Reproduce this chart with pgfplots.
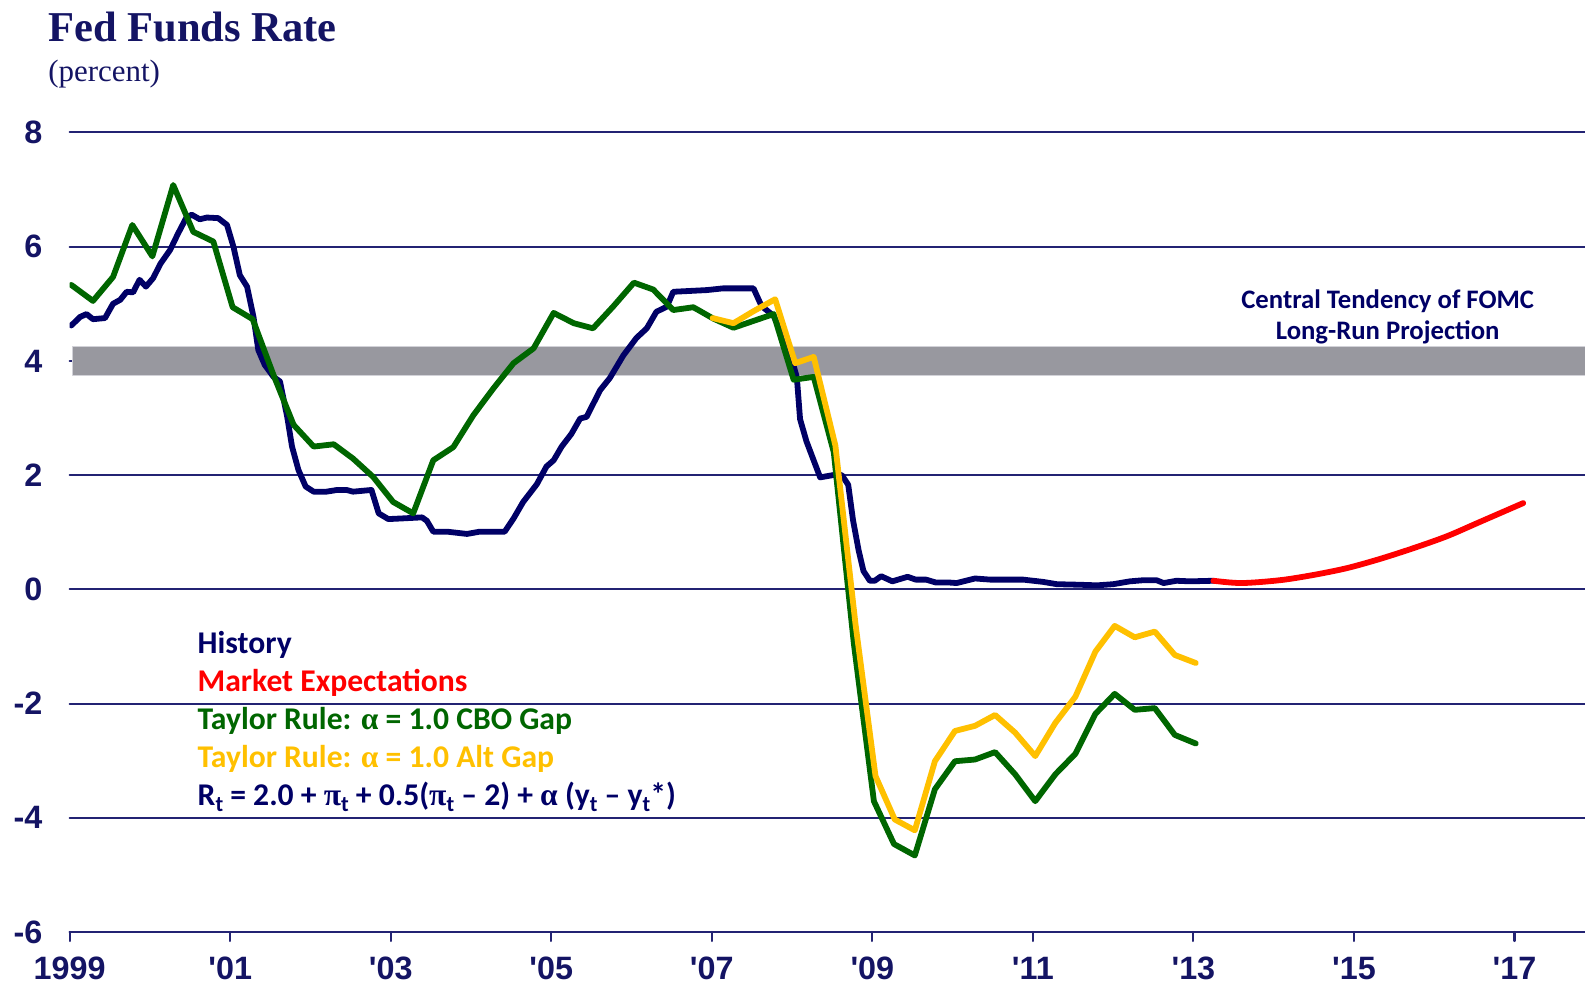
\documentclass[border=0pt]{standalone}
\usepackage{fontspec}
\setmainfont{Liberation Sans}
\newfontfamily\titlefont{Liberation Serif}
\newfontfamily\calfont{Carlito}
\newfontfamily\greekfont{Liberation Serif}
\usepackage{pgfplots}
\pgfplotsset{compat=1.18}
\definecolor{navy}{HTML}{141464}
\definecolor{histc}{HTML}{000066}
\definecolor{gridc}{HTML}{232373}
\definecolor{tgreen}{HTML}{006600}
\definecolor{tyellow}{HTML}{FFC000}
\definecolor{band}{HTML}{98989F}
\definecolor{bandedge}{HTML}{D2D2D8}
\newcommand{\tickf}{\fontsize{9.2}{10}\selectfont\bfseries}
\newcommand{\legf}{\calfont\fontsize{9}{10}\selectfont\bfseries}
\newcommand{\gk}[1]{{\greekfont #1}}
\newcommand{\sub}[1]{\raisebox{-0.35ex}{\fontsize{6.3}{7}\selectfont #1}}
\begin{document}
\begin{tikzpicture}
\begin{axis}[
  at={(0,0)}, anchor=south west, scale only axis,
  width=151.53mm, height=79.95mm,
  xmin=1999, xmax=2017.88, ymin=-6, ymax=8,
  axis x line*=bottom, axis y line*=left,
  x axis line style={gridc, line width=0.6pt, -},
  y axis line style={draw=none},
  xtick={1999,2001,...,2017},
  xticklabels={1999,\textquotesingle01,\textquotesingle03,\textquotesingle05,\textquotesingle07,\textquotesingle09,\textquotesingle11,\textquotesingle13,\textquotesingle15,\textquotesingle17},
  ytick={-6,-4,...,8},
  yticklabels={-6,-4,-2,0,2,4,6,8},
  ymajorgrids, grid style={gridc, line width=0.55pt},
  xtick style={gridc, line width=0.6pt}, tick align=outside, major tick length=0.9mm,
  ytick style={draw=none},
  tick label style={font=\tickf, text=navy},
  xticklabel style={anchor=base, yshift=-3.9mm},
  yticklabel style={anchor=east, inner sep=0pt, xshift=-1.77mm},
  line join=round, line cap=round,
]
% central tendency band
\addplot[fill=band, draw=bandedge, line width=0.3pt, forget plot]
  coordinates {(1999.04,3.75) (2017.95,3.75) (2017.95,4.25) (1999.04,4.25)} -- cycle;
% history
\addplot[histc, line width=1.65pt] coordinates {
 (1999.02,4.62) (1999.13,4.77) (1999.21,4.82) (1999.29,4.73) (1999.44,4.75) (1999.54,5.0)
 (1999.63,5.07) (1999.71,5.21) (1999.79,5.2) (1999.87,5.42) (1999.95,5.3) (2000.04,5.45)
 (2000.13,5.7) (2000.25,5.94) (2000.35,6.23) (2000.45,6.5) (2000.52,6.56) (2000.62,6.48)
 (2000.71,6.51) (2000.85,6.5) (2000.96,6.38) (2001.04,6.0) (2001.12,5.5) (2001.21,5.3)
 (2001.29,4.77) (2001.35,4.19) (2001.43,3.93) (2001.54,3.72) (2001.62,3.64) (2001.71,3.02)
 (2001.77,2.5) (2001.85,2.09) (2001.94,1.8) (2002.04,1.71) (2002.2,1.71) (2002.33,1.74)
 (2002.45,1.74) (2002.53,1.71) (2002.76,1.74) (2002.85,1.33) (2002.97,1.23) (2003.12,1.24)
 (2003.39,1.26) (2003.45,1.2) (2003.53,1.01) (2003.7,1.01) (2003.95,0.97) (2004.11,1.01)
 (2004.42,1.01) (2004.53,1.24) (2004.65,1.53) (2004.82,1.84) (2004.94,2.15) (2005.03,2.26)
 (2005.13,2.5) (2005.25,2.72) (2005.36,2.99) (2005.44,3.02) (2005.61,3.49) (2005.73,3.7)
 (2005.9,4.1) (2006.06,4.4) (2006.19,4.57) (2006.31,4.86) (2006.44,4.95) (2006.52,5.21)
 (2006.94,5.24) (2007.14,5.27) (2007.52,5.27) (2007.62,4.96) (2007.77,4.79) (2007.97,4.17)
 (2008.06,3.71) (2008.1,2.98) (2008.18,2.59) (2008.35,1.96) (2008.51,2.0) (2008.62,2.0)
 (2008.7,1.83) (2008.76,1.21) (2008.83,0.68) (2008.89,0.32) (2008.97,0.15) (2009.03,0.15)
 (2009.11,0.23) (2009.25,0.14) (2009.44,0.22) (2009.54,0.17) (2009.67,0.17) (2009.79,0.12)
 (2009.95,0.12) (2010.05,0.11) (2010.28,0.19) (2010.47,0.17) (2010.88,0.17) (2011.13,0.13)
 (2011.30,0.09) (2011.59,0.08) (2011.80,0.07) (2012.0,0.09) (2012.21,0.14) (2012.38,0.16)
 (2012.54,0.16) (2012.63,0.11) (2012.79,0.15) (2012.96,0.14) (2013.25,0.15)};
% Taylor rule, CBO gap
\addplot[tgreen, line width=1.65pt] coordinates {
 (1999.02,5.33) (1999.29,5.05) (1999.54,5.47) (1999.78,6.38) (2000.03,5.83) (2000.29,7.08)
 (2000.54,6.26) (2000.79,6.09) (2001.03,4.94) (2001.28,4.73) (2001.54,3.75) (2001.79,2.88)
 (2002.04,2.5) (2002.29,2.54) (2002.53,2.29) (2002.78,1.97) (2003.03,1.53) (2003.28,1.33)
 (2003.53,2.26) (2003.78,2.49) (2004.03,3.05) (2004.28,3.52) (2004.53,3.96) (2004.78,4.22)
 (2005.03,4.84) (2005.28,4.66) (2005.52,4.57) (2005.77,4.95) (2006.03,5.37) (2006.27,5.25)
 (2006.52,4.89) (2006.77,4.94) (2007.02,4.74) (2007.27,4.58) (2007.52,4.7) (2007.77,4.82)
 (2008.02,3.67) (2008.27,3.72) (2008.52,2.4) (2008.77,-0.95) (2009.02,-3.71) (2009.27,-4.46)
 (2009.53,-4.66) (2009.78,-3.5) (2010.03,-3.01) (2010.28,-2.98) (2010.53,-2.85) (2010.78,-3.24)
 (2011.03,-3.71) (2011.28,-3.24) (2011.53,-2.88) (2011.78,-2.18) (2012.02,-1.83) (2012.27,-2.11)
 (2012.52,-2.08) (2012.77,-2.55) (2013.03,-2.70)};
% Taylor rule, alternative gap
\addplot[tyellow, line width=1.65pt] coordinates {
 (2007.01,4.75) (2007.27,4.66) (2007.52,4.87) (2007.79,5.08) (2008.04,3.96) (2008.27,4.07)
 (2008.54,2.52) (2008.79,-0.6) (2009.04,-3.27) (2009.28,-4.03) (2009.53,-4.22) (2009.78,-3.01)
 (2010.03,-2.48) (2010.28,-2.39) (2010.53,-2.2) (2010.78,-2.51) (2011.03,-2.92) (2011.28,-2.34)
 (2011.53,-1.88) (2011.78,-1.09) (2012.02,-0.64) (2012.27,-0.84) (2012.52,-0.74) (2012.77,-1.15)
 (2013.03,-1.29)};
% market expectations
\addplot[red, line width=1.65pt, smooth] coordinates {
 (2013.25,0.15) (2013.60,0.11) (2014.08,0.16) (2014.49,0.25) (2014.91,0.37) (2015.32,0.53)
 (2015.74,0.72) (2016.16,0.93) (2016.57,1.18) (2017.11,1.51)};
\end{axis}
% titles
\node[anchor=base west, inner sep=0pt, text=navy, font=\titlefont\fontsize{12.1}{14}\selectfont\bfseries] at (-2.2mm,89mm) {Fed Funds Rate};
\node[anchor=base west, inner sep=0pt, text=navy, font=\titlefont\fontsize{8.8}{10}\selectfont] at (-2.2mm,85mm) {(percent)};
% band label
\node[anchor=base, inner sep=0pt, text=histc, font=\calfont\fontsize{7.6}{8}\selectfont\bfseries] at (131.8mm,62.3mm) {Central Tendency of FOMC};
\node[anchor=base, inner sep=0pt, text=histc, font=\calfont\fontsize{7.6}{8}\selectfont\bfseries] at (131.8mm,59.2mm) {Long-Run Projection};
% legend
\node[anchor=base west, inner sep=0pt, text=histc, font=\legf] at (12.73mm,27.8mm) {History};
\node[anchor=base west, inner sep=0pt, text=red, font=\legf] at (12.73mm,24.0mm) {Market Expectations};
\node[anchor=base west, inner sep=0pt, text=tgreen, font=\legf] at (12.73mm,20.2mm) {Taylor Rule: \gk{α} = 1.0 CBO Gap};
\node[anchor=base west, inner sep=0pt, text=tyellow, font=\legf] at (12.73mm,16.4mm) {Taylor Rule: \gk{α} = 1.0 Alt Gap};
\node[anchor=base west, inner sep=0pt, text=histc, font=\legf] at (12.73mm,12.6mm) {R\sub{t} = 2.0 + \gk{π}\sub{t} + 0.5(\gk{π}\sub{t} – 2) + \gk{α} (y\sub{t} – y\sub{t}*)};
\pgfresetboundingbox
\useasboundingbox (-6.97mm,-5.3mm) rectangle (151.53mm,93.2mm);
\end{tikzpicture}
\end{document}
